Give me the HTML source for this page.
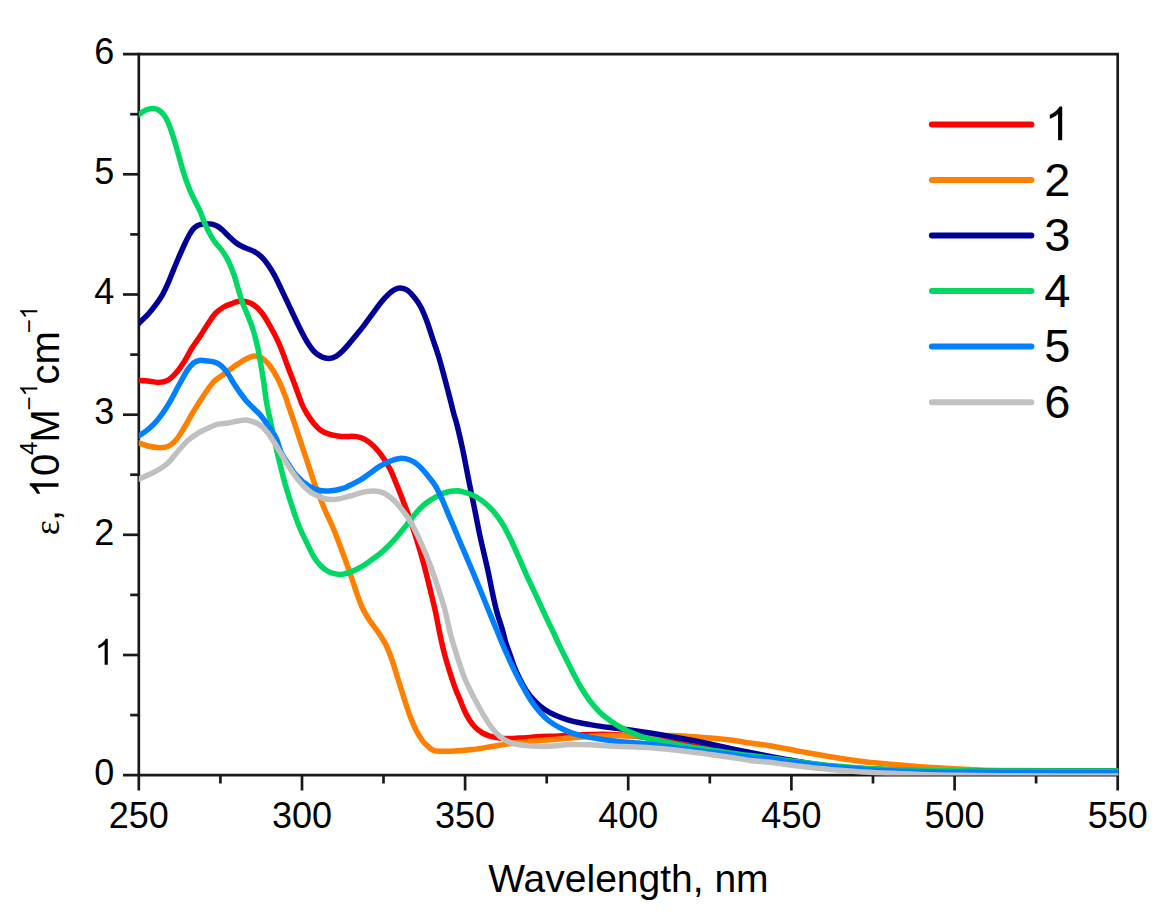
<!DOCTYPE html>
<html><head><meta charset="utf-8"><title>chart</title>
<style>
html,body{margin:0;padding:0;background:#fff;}
body{width:1169px;height:919px;overflow:hidden;font-family:"Liberation Sans",sans-serif;}
svg{display:block;}
text{font-family:"Liberation Sans",sans-serif;fill:#000;}
</style></head><body>
<svg width="1169" height="919" viewBox="0 0 1169 919">
<rect width="1169" height="919" fill="#fff"/>
<defs><clipPath id="c"><rect x="138.8" y="54.1" width="979.5" height="721.4"/></clipPath></defs>

<g stroke="#1a1a1a" stroke-width="2.7" fill="none" stroke-linecap="butt">
<path d="M123.0 54.1 H1119.0"/>
<path d="M1117.7 54.1 V790.5"/>
<path d="M138.8 52.8 V790.5"/>
<path d="M123.0 775.2 H1117.7"/>
<path d="M130.2 715.1 H138.8"/>
<path d="M123.0 655.0 H138.8"/>
<path d="M130.2 594.9 H138.8"/>
<path d="M123.0 534.8 H138.8"/>
<path d="M130.2 474.7 H138.8"/>
<path d="M123.0 414.7 H138.8"/>
<path d="M130.2 354.6 H138.8"/>
<path d="M123.0 294.5 H138.8"/>
<path d="M130.2 234.4 H138.8"/>
<path d="M123.0 174.3 H138.8"/>
<path d="M130.2 114.2 H138.8"/>
<path d="M220.4 775.2 V783.5"/>
<path d="M302.0 775.2 V790.5"/>
<path d="M383.5 775.2 V783.5"/>
<path d="M465.1 775.2 V790.5"/>
<path d="M546.7 775.2 V783.5"/>
<path d="M628.2 775.2 V790.5"/>
<path d="M709.8 775.2 V783.5"/>
<path d="M791.4 775.2 V790.5"/>
<path d="M873.0 775.2 V783.5"/>
<path d="M954.6 775.2 V790.5"/>
<path d="M1036.1 775.2 V783.5"/>
</g>
<g clip-path="url(#c)" fill="none" stroke-width="5.5" stroke-linejoin="round" stroke-linecap="butt">
<path stroke="#ff0000" d="M136.0 380.2C136.5 380.2 137.0 380.3 139.0 380.4C141.0 380.5 144.8 380.7 148.0 381.0C151.2 381.3 154.8 382.5 158.0 382.4C161.2 382.3 164.5 382.0 167.5 380.4C170.5 378.8 173.2 376.1 176.0 373.0C178.8 369.9 181.3 366.2 184.0 362.0C186.7 357.8 189.2 352.5 192.0 348.0C194.8 343.5 198.3 339.0 200.9 335.0C203.5 331.0 205.3 327.7 207.8 324.0C210.3 320.3 213.1 315.8 215.8 313.0C218.5 310.2 221.1 308.6 223.8 307.0C226.5 305.4 229.4 304.5 231.8 303.6C234.2 302.7 236.1 301.9 238.4 301.6C240.8 301.3 243.4 301.0 246.0 301.6C248.6 302.2 251.3 303.1 254.0 305.0C256.7 306.9 259.3 309.5 262.0 313.0C264.7 316.5 267.1 320.8 270.0 326.0C272.9 331.2 276.3 337.3 279.2 344.0C282.1 350.7 284.9 358.8 287.6 366.0C290.3 373.2 293.2 380.5 295.6 387.0C298.1 393.5 300.3 400.4 302.3 405.0C304.3 409.6 305.8 411.7 307.7 414.8C309.6 417.9 311.7 421.0 313.8 423.5C315.9 426.0 317.8 428.2 320.3 430.0C322.8 431.8 326.1 433.2 329.0 434.2C331.9 435.2 335.0 435.6 337.7 436.0C340.4 436.4 342.6 436.6 345.0 436.6C347.4 436.7 349.5 436.2 352.0 436.3C354.5 436.4 357.7 436.7 360.0 437.3C362.3 437.9 363.7 438.5 366.0 440.0C368.3 441.5 371.3 443.7 374.0 446.4C376.7 449.1 379.3 452.2 382.0 456.0C384.7 459.8 387.7 464.5 390.0 469.0C392.3 473.5 394.0 478.2 396.0 483.0C398.0 487.8 399.9 492.5 402.0 498.0C404.1 503.5 406.5 509.7 408.8 516.0C411.0 522.3 413.4 529.3 415.5 536.0C417.6 542.7 419.9 550.3 421.5 556.0C423.1 561.7 423.8 564.1 425.3 570.0C426.8 575.9 428.9 584.1 430.6 591.2C432.3 598.3 434.0 605.3 435.6 612.4C437.1 619.5 438.3 626.5 439.8 633.6C441.3 640.7 442.8 647.8 444.7 654.9C446.6 662.0 449.2 670.2 451.1 676.1C453.0 682.0 454.5 686.2 456.0 690.2C457.5 694.2 458.8 696.7 460.2 700.1C461.6 703.5 462.8 707.2 464.4 710.5C465.9 713.8 467.6 717.0 469.5 719.9C471.4 722.8 473.4 725.5 475.5 727.6C477.6 729.8 480.1 731.4 482.4 732.8C484.7 734.2 486.6 734.9 489.2 735.8C491.8 736.6 494.7 737.4 497.8 737.9C500.9 738.4 503.7 738.6 508.0 738.6C512.3 738.6 518.0 738.2 523.4 737.9C528.8 737.6 535.2 736.9 540.5 736.6C545.8 736.3 550.1 736.4 555.0 736.2C559.9 736.0 564.2 735.6 570.0 735.3C575.8 735.0 583.3 734.6 590.0 734.5C596.7 734.4 603.3 734.2 610.0 734.4C616.7 734.6 623.3 735.0 630.0 735.6C636.7 736.2 643.3 737.2 650.0 738.2C656.7 739.2 663.3 740.3 670.0 741.5C676.7 742.7 683.3 744.2 690.0 745.5C696.7 746.8 703.3 747.8 710.0 749.0C716.7 750.2 723.3 751.8 730.0 753.0C736.7 754.2 743.3 755.2 750.0 756.0C756.7 756.8 761.7 756.9 770.0 758.0C778.3 759.1 790.0 761.2 800.0 762.5C810.0 763.8 820.0 765.0 830.0 766.0C840.0 767.0 850.0 767.8 860.0 768.5C870.0 769.2 880.0 769.6 890.0 770.0C900.0 770.4 910.0 770.6 920.0 770.8C930.0 771.0 936.7 770.9 950.0 771.0C963.3 771.1 970.8 771.2 1000.0 771.2C1029.2 771.2 1104.2 771.2 1125.0 771.2"/>
<path stroke="#ff8000" d="M136.0 442.0C136.5 442.2 137.0 442.3 139.0 443.0C141.0 443.7 144.8 445.2 148.0 446.0C151.2 446.8 154.7 447.5 158.0 447.6C161.3 447.7 165.0 447.7 168.0 446.4C171.0 445.1 173.3 443.1 176.0 440.0C178.7 436.9 181.3 432.3 184.0 428.0C186.7 423.7 189.6 418.1 192.0 414.0C194.4 409.9 196.2 407.2 198.5 403.5C200.8 399.8 203.4 395.7 206.0 392.0C208.6 388.3 211.3 384.1 214.0 381.4C216.7 378.6 219.3 377.5 222.0 375.5C224.7 373.5 227.3 371.4 230.0 369.5C232.7 367.6 235.3 365.6 238.0 363.9C240.7 362.2 243.3 360.4 246.0 359.1C248.7 357.8 251.3 356.2 254.0 356.0C256.7 355.8 259.3 356.3 262.0 358.0C264.7 359.7 267.3 362.5 270.0 366.0C272.7 369.5 275.3 373.7 278.0 379.0C280.7 384.3 284.3 393.7 286.0 398.0C287.7 402.3 287.0 401.5 288.2 405.0C289.4 408.5 291.4 414.0 293.1 419.1C294.8 424.2 296.7 430.1 298.5 435.5C300.3 440.9 302.2 446.4 304.0 451.8C305.8 457.2 307.6 462.7 309.4 468.1C311.2 473.5 312.9 479.1 314.8 484.4C316.7 489.7 319.0 495.2 320.8 499.7C322.6 504.2 323.4 506.4 325.6 511.5C327.8 516.5 331.3 523.4 334.0 530.0C336.7 536.6 339.3 543.8 342.0 551.0C344.7 558.2 347.7 566.3 350.0 573.0C352.3 579.7 354.0 585.3 356.0 591.0C358.0 596.7 359.7 602.0 362.0 607.0C364.3 612.0 367.3 616.8 370.0 621.0C372.7 625.2 375.3 628.0 378.0 632.0C380.7 636.0 383.7 640.3 386.0 645.0C388.3 649.7 390.0 654.3 392.0 660.0C394.0 665.7 396.0 672.7 398.0 679.0C400.0 685.3 402.0 691.8 404.0 698.0C406.0 704.2 408.0 710.7 410.0 716.0C412.0 721.3 414.0 726.0 416.0 730.0C418.0 734.0 420.5 737.8 422.0 740.0C423.5 742.2 424.0 742.5 425.0 743.5C426.0 744.5 427.0 745.3 428.0 746.2C429.0 747.1 430.0 748.3 431.0 749.0C432.0 749.7 432.5 750.2 434.0 750.6C435.5 751.0 436.5 751.1 440.0 751.2C443.5 751.3 449.7 751.4 455.0 751.1C460.3 750.8 466.3 750.3 472.0 749.6C477.7 748.9 483.5 747.9 489.2 747.0C494.9 746.1 500.6 744.9 506.3 744.1C512.0 743.3 517.7 742.6 523.4 742.0C529.1 741.4 535.2 740.9 540.5 740.5C545.8 740.1 550.1 739.8 555.0 739.4C559.9 739.0 564.2 738.5 570.0 738.0C575.8 737.5 583.3 736.8 590.0 736.4C596.7 736.0 603.3 735.7 610.0 735.6C616.7 735.5 623.3 735.9 630.0 736.0C636.7 736.1 643.3 736.1 650.0 736.0C656.7 735.9 663.3 735.5 670.0 735.6C676.7 735.7 683.3 736.0 690.0 736.4C696.7 736.8 703.3 737.4 710.0 738.0C716.7 738.6 723.3 739.2 730.0 740.0C736.7 740.8 743.3 742.0 750.0 743.0C756.7 744.0 761.7 744.4 770.0 745.8C778.3 747.2 790.0 749.6 800.0 751.4C810.0 753.2 820.0 755.1 830.0 756.7C840.0 758.3 850.0 760.0 860.0 761.2C870.0 762.5 880.0 763.3 890.0 764.2C900.0 765.1 910.8 766.0 920.0 766.7C929.2 767.4 936.7 767.7 945.0 768.2C953.3 768.7 960.8 769.1 970.0 769.5C979.2 769.9 974.2 770.2 1000.0 770.5C1025.8 770.8 1104.2 770.9 1125.0 771.0"/>
<path stroke="#000099" d="M136.0 326.5C136.6 325.8 137.5 324.6 139.6 322.5C141.7 320.4 145.5 317.1 148.3 314.0C151.1 310.9 154.2 306.9 156.6 303.6C159.0 300.3 160.8 297.9 162.7 294.4C164.6 290.9 166.5 286.8 168.3 282.7C170.1 278.6 171.8 273.9 173.6 269.6C175.3 265.4 177.1 261.2 178.8 257.2C180.5 253.2 182.3 249.2 184.0 245.5C185.7 241.8 187.7 237.7 189.2 235.0C190.7 232.3 191.8 230.6 193.1 229.1C194.4 227.6 195.6 226.7 197.0 225.9C198.4 225.1 199.6 224.7 201.2 224.3C202.9 223.9 205.0 223.7 206.8 223.7C208.6 223.7 210.3 223.7 212.0 224.1C213.7 224.5 215.3 225.1 217.0 226.0C218.7 226.9 220.2 228.1 222.2 229.8C224.1 231.5 226.5 234.2 228.7 236.3C230.9 238.4 233.1 240.5 235.3 242.2C237.5 243.9 239.6 245.2 241.8 246.3C244.0 247.4 246.1 248.1 248.3 249.0C250.5 249.9 252.6 250.5 254.8 251.8C257.0 253.1 259.2 254.7 261.4 256.8C263.6 258.9 265.7 261.6 267.9 264.6C270.1 267.7 272.2 271.1 274.4 275.1C276.6 279.1 278.8 283.9 281.1 288.8C283.5 293.7 285.6 298.2 288.6 304.6C291.6 311.0 296.1 320.8 299.2 327.0C302.3 333.2 304.6 337.8 307.2 342.0C309.8 346.2 312.1 349.5 314.6 352.0C317.1 354.5 319.6 355.9 322.0 357.0C324.4 358.1 326.7 358.5 329.0 358.4C331.3 358.3 333.8 357.6 336.0 356.4C338.2 355.2 340.0 353.4 342.2 351.3C344.4 349.2 346.9 346.3 349.2 343.6C351.5 340.9 353.8 338.1 356.1 335.3C358.4 332.5 360.8 329.6 363.1 326.6C365.4 323.6 367.1 321.3 370.1 317.2C373.1 313.1 378.1 305.9 381.3 302.0C384.5 298.1 387.1 295.7 389.3 293.6C391.5 291.5 392.9 290.5 394.6 289.6C396.4 288.7 397.9 287.9 400.0 288.0C402.1 288.1 404.7 288.5 407.0 290.0C409.3 291.5 411.7 294.2 414.0 297.0C416.3 299.8 418.7 303.0 420.8 307.0C422.9 311.0 424.8 315.7 426.8 321.0C428.8 326.3 430.8 333.0 432.8 339.0C434.8 345.0 437.0 351.0 438.8 357.0C440.6 363.0 442.1 368.8 443.8 375.0C445.5 381.2 447.1 387.5 448.8 394.0C450.5 400.5 452.5 408.8 453.8 413.8C455.1 418.8 455.3 418.0 456.8 424.0C458.3 430.0 460.9 441.0 462.8 450.0C464.7 459.0 466.4 468.7 468.3 478.0C470.1 487.3 472.0 496.3 474.0 506.0C476.0 515.7 477.7 525.3 480.0 536.0C482.3 546.7 485.8 560.8 487.8 570.0C489.8 579.2 490.6 584.1 492.1 591.2C493.6 598.3 495.2 605.9 497.0 612.4C498.8 618.9 501.2 625.6 502.6 630.5C504.0 635.4 504.4 638.1 505.6 642.0C506.8 645.9 508.4 650.0 509.8 654.0C511.2 658.0 512.4 661.9 514.0 665.9C515.6 669.9 517.3 673.9 519.3 677.9C521.3 681.9 523.4 686.1 525.9 689.9C528.4 693.7 531.3 697.5 534.3 700.7C537.3 703.9 540.3 706.5 543.9 709.0C547.5 711.5 551.9 713.8 555.9 715.6C559.9 717.4 563.8 718.6 567.8 719.8C571.8 721.0 576.1 722.0 579.8 722.8C583.5 723.6 585.0 723.8 590.0 724.6C595.0 725.4 603.3 726.7 610.0 727.6C616.7 728.5 623.3 729.1 630.0 730.0C636.7 730.9 643.3 731.9 650.0 733.0C656.7 734.1 663.3 735.2 670.0 736.4C676.7 737.6 683.3 738.7 690.0 740.0C696.7 741.3 703.3 742.6 710.0 744.0C716.7 745.4 723.3 747.0 730.0 748.4C736.7 749.8 743.3 751.1 750.0 752.4C756.7 753.7 763.3 755.1 770.0 756.4C776.7 757.7 783.3 758.8 790.0 760.0C796.7 761.2 803.3 762.4 810.0 763.5C816.7 764.6 821.7 765.7 830.0 766.5C838.3 767.3 850.0 767.9 860.0 768.5C870.0 769.1 880.0 769.6 890.0 770.0C900.0 770.4 910.0 770.6 920.0 770.8C930.0 771.0 936.7 770.9 950.0 771.0C963.3 771.1 970.8 771.2 1000.0 771.2C1029.2 771.2 1104.2 771.2 1125.0 771.2"/>
<path stroke="#00d864" d="M136.0 116.5C136.5 116.2 137.3 115.5 139.0 114.4C140.7 113.3 143.5 111.0 146.0 110.0C148.5 109.0 151.7 108.4 154.0 108.6C156.3 108.8 158.0 109.4 160.0 111.0C162.0 112.6 164.2 114.8 166.0 118.0C167.8 121.2 169.3 125.3 171.0 130.0C172.7 134.7 174.5 141.0 176.0 146.0C177.5 151.0 178.7 155.3 180.0 160.0C181.3 164.7 182.5 169.3 184.0 174.0C185.5 178.7 187.2 183.5 189.0 188.0C190.8 192.5 193.2 197.2 195.0 201.0C196.8 204.8 198.3 207.2 200.0 211.0C201.7 214.8 203.2 219.8 205.0 224.0C206.8 228.2 209.2 232.8 211.0 236.0C212.8 239.2 214.2 241.0 216.0 243.4C217.8 245.8 219.9 247.6 222.0 250.5C224.1 253.4 226.3 256.9 228.3 261.0C230.3 265.1 232.4 270.3 234.1 275.0C235.7 279.7 236.8 284.5 238.2 289.0C239.6 293.5 240.7 297.8 242.2 302.0C243.7 306.2 245.5 309.8 247.2 314.0C248.9 318.2 250.7 322.5 252.2 327.0C253.7 331.5 255.0 336.3 256.2 341.0C257.4 345.7 258.3 350.2 259.2 355.0C260.1 359.8 261.0 365.2 261.8 370.0C262.5 374.8 263.3 379.2 264.0 384.0C264.7 388.8 265.3 394.3 266.0 399.0C266.7 403.7 267.7 408.7 268.4 412.0C269.1 415.3 269.1 414.7 270.0 419.0C270.9 423.3 272.5 431.2 274.0 438.0C275.5 444.8 277.3 453.0 279.0 460.0C280.7 467.0 282.2 473.3 284.0 480.0C285.8 486.7 288.0 493.7 290.0 500.0C292.0 506.3 294.3 513.2 296.0 518.0C297.7 522.8 298.2 524.4 300.0 528.5C301.8 532.6 304.5 538.2 306.8 542.9C309.1 547.6 311.4 552.8 313.7 556.6C316.0 560.4 318.2 563.1 320.5 565.5C322.8 567.9 325.1 569.6 327.4 571.0C329.7 572.4 331.9 573.1 334.2 573.7C336.5 574.3 338.7 574.5 341.0 574.4C343.3 574.3 345.6 573.7 347.9 573.0C350.2 572.3 352.4 571.3 354.7 570.3C357.0 569.2 359.3 568.1 361.6 566.7C363.9 565.4 366.1 563.8 368.4 562.2C370.7 560.6 372.9 559.0 375.2 557.3C377.5 555.6 379.8 553.8 382.1 551.8C384.4 549.8 386.6 547.8 388.9 545.5C391.2 543.2 393.5 540.7 395.8 538.1C398.1 535.5 400.3 532.7 402.6 529.9C404.9 527.1 407.1 524.1 409.4 521.2C411.7 518.4 414.0 515.4 416.3 512.8C418.6 510.2 420.8 507.7 423.1 505.6C425.4 503.5 427.7 501.9 430.0 500.4C432.3 498.9 434.5 497.6 436.8 496.4C439.1 495.2 441.3 494.0 443.6 493.2C445.9 492.4 448.1 491.7 450.5 491.3C452.9 490.9 456.1 490.8 458.0 490.8C459.9 490.9 460.0 491.1 462.0 491.6C464.0 492.1 467.3 492.9 470.0 494.0C472.7 495.1 475.3 496.3 478.0 498.0C480.7 499.7 483.3 501.7 486.0 504.0C488.7 506.3 491.3 508.8 494.0 512.0C496.7 515.2 499.3 518.7 502.0 523.0C504.7 527.3 507.3 532.6 510.0 538.0C512.7 543.4 515.7 550.3 518.0 555.5C520.3 560.7 521.7 564.1 524.0 569.3C526.3 574.5 529.3 581.0 532.0 586.8C534.7 592.6 537.3 598.2 540.0 604.0C542.7 609.8 546.0 617.0 548.0 621.3C550.0 625.6 550.4 626.0 552.3 630.0C554.2 634.0 557.1 640.6 559.5 645.6C561.9 650.6 564.2 655.1 566.6 659.9C569.0 664.7 571.4 669.7 573.8 674.3C576.2 678.9 578.3 683.0 581.0 687.5C583.7 692.0 586.8 696.8 590.0 701.0C593.2 705.2 596.7 709.2 600.0 712.5C603.3 715.8 606.7 718.1 610.0 720.5C613.3 722.9 616.7 725.1 620.0 727.0C623.3 728.9 626.7 730.5 630.0 732.0C633.3 733.5 636.7 734.8 640.0 736.0C643.3 737.2 645.0 737.8 650.0 739.0C655.0 740.2 663.3 741.7 670.0 743.0C676.7 744.3 683.3 745.8 690.0 747.0C696.7 748.2 703.3 749.0 710.0 750.0C716.7 751.0 723.3 752.1 730.0 753.0C736.7 753.9 743.3 754.8 750.0 755.6C756.7 756.4 761.7 756.9 770.0 758.0C778.3 759.1 790.0 760.8 800.0 762.0C810.0 763.2 820.0 764.5 830.0 765.5C840.0 766.5 850.0 767.3 860.0 768.0C870.0 768.7 880.0 769.2 890.0 769.6C900.0 770.0 910.0 770.1 920.0 770.3C930.0 770.5 936.7 770.6 950.0 770.7C963.3 770.8 970.8 771.0 1000.0 771.0C1029.2 771.0 1104.2 771.0 1125.0 771.0"/>
<path stroke="#0080ff" d="M136.0 436.5C136.5 436.4 136.9 436.9 139.0 435.6C141.1 434.4 145.5 431.6 148.6 429.0C151.6 426.4 154.7 423.3 157.5 420.0C160.3 416.7 163.2 412.5 165.5 409.0C167.8 405.5 169.2 403.2 171.5 399.0C173.8 394.8 176.8 388.8 179.5 384.0C182.2 379.2 185.2 373.5 187.5 370.0C189.8 366.5 191.5 364.6 193.5 363.0C195.5 361.4 197.2 360.7 199.5 360.4C201.8 360.1 204.8 360.7 207.5 361.0C210.2 361.3 213.2 361.6 215.5 362.4C217.8 363.2 219.5 364.2 221.5 366.0C223.5 367.8 225.5 370.2 227.5 373.0C229.5 375.8 231.4 379.7 233.5 383.0C235.6 386.3 238.1 390.0 240.3 393.0C242.4 396.0 244.3 398.5 246.4 401.0C248.6 403.5 251.7 406.3 253.3 408.0C254.9 409.7 255.0 409.7 256.3 411.0C257.6 412.3 259.6 414.0 261.2 415.9C262.8 417.8 264.2 420.0 265.9 422.4C267.6 424.8 269.5 427.1 271.3 430.0C273.1 432.9 275.2 435.8 276.8 439.5C278.4 443.2 279.3 448.4 281.1 452.3C282.9 456.2 285.4 459.6 287.6 463.0C289.8 466.4 292.0 470.1 294.2 472.9C296.4 475.7 299.0 477.9 300.7 479.6C302.4 481.3 303.1 481.8 304.5 482.9C305.9 484.0 307.5 485.3 309.4 486.4C311.3 487.5 313.4 488.5 315.9 489.3C318.4 490.1 322.1 490.8 324.6 491.0C327.2 491.2 328.6 491.0 331.2 490.7C333.8 490.4 337.6 489.7 339.9 489.2C342.2 488.7 343.3 488.5 345.0 487.8C346.7 487.1 347.5 486.5 350.0 485.2C352.5 483.9 356.7 482.2 360.0 480.2C363.3 478.2 366.7 475.5 370.0 473.2C373.3 470.9 376.7 468.2 380.0 466.2C383.3 464.2 386.7 462.5 390.0 461.2C393.3 459.9 396.7 458.6 400.0 458.4C403.3 458.2 407.0 458.9 410.0 460.0C413.0 461.1 415.3 462.7 418.0 465.0C420.7 467.3 423.5 470.5 426.4 474.0C429.3 477.5 432.8 481.5 435.5 486.0C438.2 490.5 440.2 495.1 442.8 501.0C445.4 506.9 448.3 514.2 451.3 521.2C454.3 528.2 457.4 535.5 460.6 543.2C463.9 550.9 467.4 559.2 470.8 567.2C474.2 575.2 477.8 584.0 480.8 591.2C483.8 598.4 486.0 604.1 488.6 610.5C491.2 616.9 494.4 624.3 496.5 629.5C498.6 634.7 499.7 637.4 501.4 641.5C503.1 645.6 505.0 649.9 506.8 654.0C508.6 658.1 510.3 661.9 512.2 665.9C514.1 669.9 516.0 673.9 518.1 677.9C520.2 681.9 522.4 685.9 524.7 689.9C527.0 693.9 529.3 698.1 531.9 701.9C534.5 705.7 537.3 709.3 540.3 712.6C543.3 715.9 546.3 718.9 549.9 721.6C553.5 724.3 557.9 726.8 561.9 728.8C565.9 730.8 569.1 732.2 573.8 733.6C578.5 735.0 584.0 736.3 590.0 737.4C596.0 738.5 603.3 739.6 610.0 740.4C616.7 741.2 623.3 741.8 630.0 742.4C636.7 743.0 643.3 743.5 650.0 744.2C656.7 745.0 663.3 746.0 670.0 746.9C676.7 747.8 683.3 748.6 690.0 749.5C696.7 750.4 703.3 751.3 710.0 752.1C716.7 752.9 723.3 753.6 730.0 754.5C736.7 755.4 743.3 756.5 750.0 757.2C756.7 758.0 761.7 757.8 770.0 758.8C778.3 759.8 790.0 761.7 800.0 763.0C810.0 764.3 820.0 765.5 830.0 766.5C840.0 767.5 850.0 768.3 860.0 769.0C870.0 769.7 880.0 770.4 890.0 770.8C900.0 771.2 910.0 771.4 920.0 771.6C930.0 771.8 936.7 771.9 950.0 772.0C963.3 772.1 970.8 772.3 1000.0 772.4C1029.2 772.5 1104.2 772.5 1125.0 772.5"/>
<path stroke="#c0c0c0" d="M136.0 480.0C136.5 479.8 137.0 479.8 139.0 479.0C141.0 478.2 144.8 476.5 148.0 475.0C151.2 473.5 154.7 472.0 158.0 470.0C161.3 468.0 164.7 466.1 168.0 463.0C171.3 459.8 174.7 455.0 178.0 451.2C181.3 447.4 184.7 443.2 188.0 440.2C191.3 437.2 194.7 435.2 198.0 433.2C201.3 431.2 204.7 429.7 208.0 428.2C211.3 426.7 214.7 425.1 218.0 424.2C221.3 423.4 224.7 423.5 228.0 423.0C231.3 422.5 235.0 421.5 238.0 421.0C241.0 420.5 243.2 419.8 246.0 420.0C248.8 420.2 252.4 421.4 255.0 422.4C257.6 423.4 259.3 424.4 261.5 426.2C263.7 428.0 265.8 430.5 268.0 433.3C270.2 436.1 272.4 439.7 274.6 443.1C276.8 446.6 278.9 450.4 281.1 454.0C283.3 457.6 285.4 461.4 287.6 464.8C289.8 468.2 292.0 471.6 294.2 474.6C296.4 477.6 298.5 480.4 300.7 482.8C302.9 485.2 305.0 487.4 307.2 489.3C309.4 491.2 311.2 492.8 313.8 494.2C316.4 495.6 319.6 497.1 322.5 498.0C325.4 498.9 328.3 499.4 331.2 499.5C334.1 499.6 336.8 499.2 339.9 498.6C343.0 498.0 347.0 496.8 350.0 496.0C353.0 495.2 355.3 494.3 358.0 493.6C360.7 492.9 363.3 492.0 366.0 491.6C368.7 491.2 371.3 490.9 374.0 491.0C376.7 491.1 379.3 491.4 382.0 492.4C384.7 493.4 387.3 494.9 390.0 497.0C392.7 499.1 394.7 500.8 398.2 505.0C401.7 509.2 407.0 515.7 410.9 522.3C414.8 528.9 418.6 537.4 421.8 544.6C425.0 551.8 427.6 558.2 430.3 565.3C433.0 572.4 435.4 579.8 437.8 587.1C440.2 594.4 442.5 601.1 444.6 608.9C446.7 616.6 448.4 625.9 450.4 633.6C452.4 641.3 454.5 647.8 456.7 654.9C458.9 662.0 461.6 670.2 463.8 676.1C466.1 682.0 468.2 686.1 470.2 690.2C472.2 694.3 473.6 697.0 475.6 700.8C477.6 704.6 480.1 709.2 482.4 713.1C484.7 717.0 486.9 720.9 489.2 724.2C491.5 727.5 493.8 730.4 496.1 732.8C498.4 735.2 500.5 737.2 502.9 738.8C505.3 740.4 507.9 741.6 510.6 742.6C513.3 743.6 515.6 744.1 519.2 744.7C522.8 745.3 527.0 745.7 532.0 746.0C537.0 746.3 542.7 746.5 549.0 746.3C555.3 746.1 563.2 744.9 570.0 744.6C576.8 744.4 583.3 744.6 590.0 744.8C596.7 745.0 603.3 745.7 610.0 746.0C616.7 746.3 623.3 746.5 630.0 746.8C636.7 747.1 643.3 747.3 650.0 747.7C656.7 748.1 663.3 748.7 670.0 749.4C676.7 750.1 683.3 751.0 690.0 751.8C696.7 752.6 703.3 753.5 710.0 754.4C716.7 755.3 723.3 756.2 730.0 757.2C736.7 758.2 743.3 759.5 750.0 760.4C756.7 761.2 764.4 761.7 770.0 762.3C775.6 762.9 778.8 763.6 783.8 764.2C788.8 764.9 792.3 765.3 800.0 766.2C807.7 767.1 820.0 768.5 830.0 769.4C840.0 770.3 850.0 771.1 860.0 771.7C870.0 772.4 880.0 772.8 890.0 773.3C900.0 773.8 910.0 774.1 920.0 774.4C930.0 774.7 936.7 775.0 950.0 775.2C963.3 775.4 970.8 775.6 1000.0 775.8C1029.2 775.9 1104.2 776.0 1125.0 776.1"/>
</g>
<g font-size="36px">
<text x="138.8" y="828.3" text-anchor="middle">250</text>
<text x="302.0" y="828.3" text-anchor="middle">300</text>
<text x="465.1" y="828.3" text-anchor="middle">350</text>
<text x="628.2" y="828.3" text-anchor="middle">400</text>
<text x="791.4" y="828.3" text-anchor="middle">450</text>
<text x="954.6" y="828.3" text-anchor="middle">500</text>
<text x="1117.7" y="828.3" text-anchor="middle">550</text>
<text x="114.4" y="784.9" text-anchor="end">0</text>
<path fill="#000" d="M107.79 664.72L104.63 664.72L104.63 644.55Q103.48 645.64 101.63 646.73Q99.78 647.82 98.30 648.37L98.30 645.31Q100.95 644.06 102.94 642.29Q104.93 640.51 105.75 638.84L107.79 638.84Z"/>
<text x="114.4" y="544.5" text-anchor="end">2</text>
<text x="114.4" y="424.4" text-anchor="end">3</text>
<text x="114.4" y="304.2" text-anchor="end">4</text>
<text x="114.4" y="184.0" text-anchor="end">5</text>
<text x="114.4" y="63.8" text-anchor="end">6</text>
</g>
<text x="628.4" y="892" font-size="39px" text-anchor="middle">Wavelength, nm</text>
<g transform="translate(58.5 535.2) rotate(-90)"><text x="0" y="0" font-size="36px" style="font-family:'Liberation Serif'">ε</text></g>
<g transform="translate(58.5 521.0) rotate(-90)"><text x="0" y="0" font-size="40px" style="font-family:'Liberation Sans'">,</text></g>
<g transform="translate(58.5 498.2) rotate(-90)"><path fill="#000" d="M14.90 0.00L11.39 0.00L11.39 -22.40Q10.12 -21.19 8.06 -19.98Q6.00 -18.77 4.36 -18.16L4.36 -21.56Q7.30 -22.95 9.51 -24.92Q11.72 -26.89 12.64 -28.75L14.90 -28.75Z"/><text x="22.25" y="0" font-size="40px">0</text></g>
<g transform="translate(37.3 455.0) rotate(-90)"><text x="0" y="0" font-size="24px" style="font-family:'Liberation Sans'">4</text></g>
<g transform="translate(58.5 442.6) rotate(-90)"><text x="0" y="0" font-size="40px" style="font-family:'Liberation Sans'">M</text></g>
<g transform="translate(37.3 410.4) rotate(-90)"><text x="0" y="0" font-size="24px">−</text><path fill="#000" d="M22.96 0.00L20.85 0.00L20.85 -13.44Q20.09 -12.71 18.85 -11.99Q17.61 -11.26 16.63 -10.90L16.63 -12.94Q18.40 -13.77 19.72 -14.95Q21.05 -16.14 21.60 -17.25L22.96 -17.25Z"/></g>
<g transform="translate(58.5 384.4) rotate(-90)"><text x="0" y="0" font-size="40px" style="font-family:'Liberation Sans'">cm</text></g>
<g transform="translate(37.3 333.2) rotate(-90)"><text x="0" y="0" font-size="24px">−</text><path fill="#000" d="M22.96 0.00L20.85 0.00L20.85 -13.44Q20.09 -12.71 18.85 -11.99Q17.61 -11.26 16.63 -10.90L16.63 -12.94Q18.40 -13.77 19.72 -14.95Q21.05 -16.14 21.60 -17.25L22.96 -17.25Z"/></g>
<g stroke-width="6" stroke-linecap="round" fill="none">
<path stroke="#ff0000" d="M931.9 124.4 H1031.4"/>
<path stroke="#ff8000" d="M931.9 180.0 H1031.4"/>
<path stroke="#000099" d="M931.9 235.5 H1031.4"/>
<path stroke="#00d864" d="M931.9 291.1 H1031.4"/>
<path stroke="#0080ff" d="M931.9 346.6 H1031.4"/>
<path stroke="#c0c0c0" d="M931.9 402.2 H1031.4"/>
</g>
<g font-size="47px">
<path fill="#000" d="M1062.21 140.20L1058.08 140.20L1058.08 113.88Q1056.59 115.30 1054.17 116.72Q1051.75 118.15 1049.82 118.86L1049.82 114.86Q1053.28 113.23 1055.88 110.92Q1058.47 108.60 1059.55 106.42L1062.21 106.42Z"/>
<text x="1044.2" y="195.8">2</text>
<text x="1044.2" y="251.3">3</text>
<text x="1044.2" y="306.9">4</text>
<text x="1044.2" y="362.4">5</text>
<text x="1044.2" y="418.0">6</text>
</g>
</svg>
</body></html>
